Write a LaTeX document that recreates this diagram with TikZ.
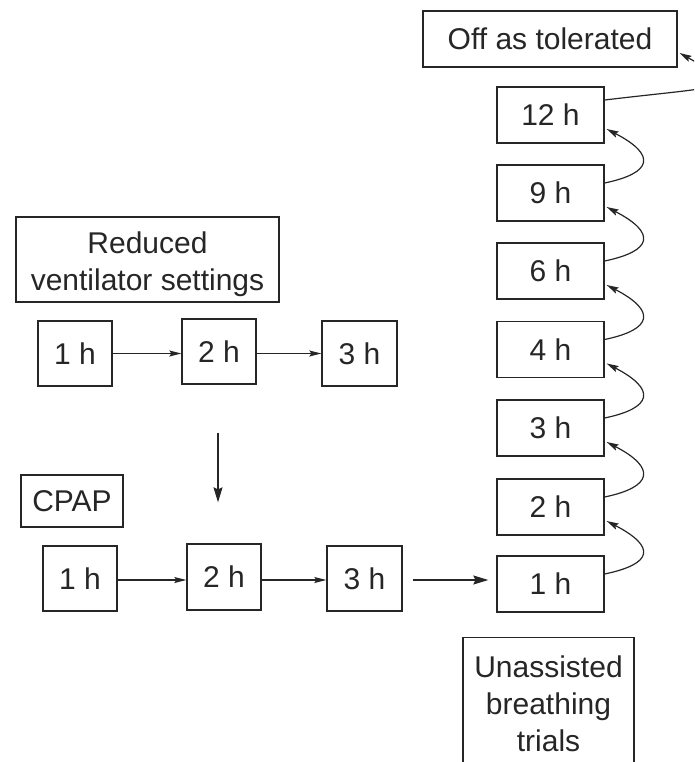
\documentclass[tikz,border=0pt]{standalone}
\usepackage{fontspec}
\setmainfont{Liberation Sans}
\usetikzlibrary{arrows.meta,calc}
\definecolor{ink}{HTML}{262626}
\begin{document}
\begin{tikzpicture}[x=1pt,y=-1pt,
  box/.style={draw=ink,line width=1.3pt,text=ink,inner sep=0pt,
    font=\fontsize{30pt}{37pt}\selectfont,align=center},
  sarr/.style={draw=ink,line width=1.2pt,-{Stealth[length=12pt,width=6pt,inset=2pt]}},
  barr/.style={draw=ink,line width=1.3pt,-{Stealth[length=15pt,width=9pt,inset=2pt]}},
  carr/.style={draw=ink,line width=1.2pt,-{Stealth[length=12pt,width=6.5pt,inset=2pt]}}]
\useasboundingbox (0,0) rectangle (694,762);
\clip (0,0) rectangle (694,762);
% right column
\node[box,minimum width=254pt,minimum height=56pt] (off) at (550,39) {Off as tolerated};
\foreach \n/\y/\t in {r12/115/12 h, r9/193/9 h, r6/271/6 h, r4/349.5/4 h, r3/428/3 h, r2/507/2 h, r1/584/1 h}
  \node[box,minimum width=107pt,minimum height=56pt] (\n) at (550.5,\y) {\t};
\node[box,anchor=north,text width=163pt,inner xsep=4pt,inner ysep=18pt] (ua) at (548.5,637)
  {Unassisted\\breathing\\trials\\ \strut\\ \strut};
% left part
\node[box,minimum width=263pt,minimum height=85pt] (red) at (147.5,259.5)
  {\rule{0pt}{32pt}Reduced\\ventilator settings};
\node[box,minimum width=74pt,minimum height=65pt] (t1) at (75,353.5) {1 h};
\node[box,minimum width=74pt,minimum height=65pt] (t2) at (219,351.5) {2 h};
\node[box,minimum width=75pt,minimum height=65pt] (t3) at (359.5,353.5) {3 h};
\node[box,minimum width=102pt,minimum height=52pt] (cpap) at (72,501) {CPAP};
\node[box,minimum width=74pt,minimum height=65pt] (c1) at (80,578.5) {1 h};
\node[box,minimum width=74pt,minimum height=66pt] (c2) at (224,577) {2 h};
\node[box,minimum width=75pt,minimum height=65pt] (c3) at (364.5,578.5) {3 h};
% straight arrows
\draw[sarr] (t1.east) -- (t1.east -| t2.west);
\draw[sarr] (t3.west -| t2.east) -- (t3.west);
\draw[sarr] ([yshift=-1.5pt]c1.east) -- ([yshift=-1.5pt]c1.east -| c2.west);
\draw[sarr] ([yshift=-1.5pt]c3.west -| c2.east) -- ([yshift=-1.5pt]c3.west);
\draw[barr,shorten <=10pt,shorten >=8pt] ([yshift=-1.5pt]c3.east) -- ([yshift=-1.5pt]c3.east -| r1.west);
\draw[barr,shorten <=48pt,shorten >=41pt] ([xshift=-1pt]t2.south) -- ([xshift=-1pt]t2.south |- c2.north);
% curved arrows up the column
\foreach \a/\b in {r1/r2, r2/r3, r3/r4, r4/r6, r6/r9, r9/r12}
  \draw[carr] ($(\a.east)+(0,-10)$) .. controls +(48,-10) and +(50,26) .. ($(\b.east)+(2,14)$);
\draw[carr] ($(r12.east)+(0,-15)$) .. controls +(126,-15) and +(66,37) .. ($(off.east)+(2,14)$);
\end{tikzpicture}
\end{document}
